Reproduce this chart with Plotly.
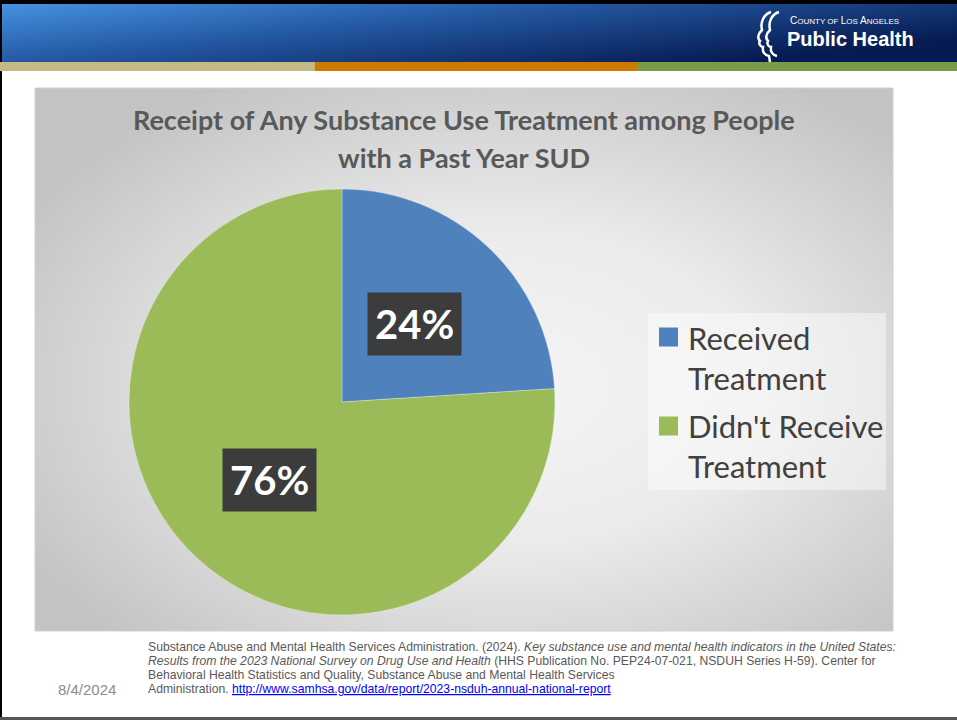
import base64
import math
import plotly.graph_objects as go

# ---- data ----
labels = ["Received Treatment", "Didn't Receive Treatment"]
legend_text = ["Received<br>Treatment", "Didn't Receive<br>Treatment"]
values = [24, 76]
colors = ["#4f81bd", "#9bbb59"]

title_lines = ["Receipt of Any Substance Use Treatment among People",
               "with a Past Year SUD"]
citation_lines = [
    "Substance Abuse and Mental Health Services Administration. (2024). "
    "<i>Key substance use and mental health indicators in the United States:</i>",
    "<i>Results from the 2023 National Survey on Drug Use and Health</i> "
    "(HHS Publication No. PEP24-07-021, NSDUH Series H-59). Center for",
    "Behavioral Health Statistics and Quality, Substance Abuse and Mental Health Services",
    "Administration. ",
]
link_url = "http://www.samhsa.gov/data/report/2023-nsduh-annual-national-report"
date_text = "8/4/2024"

W, H = 957, 720


def px(x):
    return x / W


def py(y):
    return 1 - y / H


def svg_uri(svg):
    return "data:image/svg+xml;base64," + base64.b64encode(svg.encode()).decode()


# pie placement in pixels
cx, cy, R = 342, 402, 213

fig = go.Figure()
fig.add_trace(go.Pie(
    labels=labels,
    values=values,
    marker=dict(colors=colors, line=dict(color="rgba(255,255,255,0.6)", width=0.5)),
    sort=False,
    direction="clockwise",
    rotation=0,
    textinfo="none",
    hoverinfo="label+percent",
    showlegend=False,
    domain=dict(x=[px(cx - R), px(cx + R)], y=[py(cy + R), py(cy - R)]),
))

shapes = []
images = []
annotations = []

# top banner with gradient
banner_svg = (
    "<svg xmlns='http://www.w3.org/2000/svg' width='957' height='60' viewBox='0 0 957 60' "
    "preserveAspectRatio='none'><defs><linearGradient id='b' x1='0' y1='0' x2='1' y2='0.6'>"
    "<stop offset='0' stop-color='#4593e2'/><stop offset='0.45' stop-color='#2458a2'/>"
    "<stop offset='1' stop-color='#061b52'/></linearGradient></defs>"
    "<rect width='957' height='60' fill='url(#b)'/></svg>"
)
images.append(dict(source=svg_uri(banner_svg), xref="paper", yref="paper",
                   x=0, y=py(3), sizex=1, sizey=59 / H, sizing="stretch",
                   xanchor="left", yanchor="top", layer="below"))

# chart area radial gradient
area = (35, 88, 893, 631)
aw, ah = area[2] - area[0], area[3] - area[1]
area_svg = (
    f"<svg xmlns='http://www.w3.org/2000/svg' width='{aw}' height='{ah}' viewBox='0 0 {aw} {ah}' "
    "preserveAspectRatio='none'><defs><radialGradient id='g' cx='55%' cy='55%' r='65%'>"
    "<stop offset='0' stop-color='#f5f5f5'/><stop offset='0.45' stop-color='#ebebeb'/>"
    "<stop offset='1' stop-color='#c3c3c3'/></radialGradient></defs>"
    f"<rect width='{aw}' height='{ah}' fill='url(#g)'/></svg>"
)
images.append(dict(source=svg_uri(area_svg), xref="paper", yref="paper",
                   x=px(area[0]), y=py(area[1]), sizex=aw / W, sizey=ah / H,
                   sizing="stretch", xanchor="left", yanchor="top", layer="below"))


def rect(x0, y0, x1, y1, fill, line=None, layer="below"):
    shapes.append(dict(type="rect", xref="paper", yref="paper",
                       x0=px(x0), x1=px(x1), y0=py(y1), y1=py(y0),
                       fillcolor=fill, line=dict(width=0) if line is None else line,
                       layer=layer))


# frame and stripes
rect(0, 0, W, 4, "#000000")
rect(0, 0, 2, H, "#000000")
rect(0, 62, 315, 71, "#c4b887")
rect(315, 62, 637, 71, "#cc7a00")
rect(637, 62, W, 71, "#7a9c4a")
rect(0, 717, W, H, "#555555")
rect(area[0], area[1], area[2], area[3], "rgba(0,0,0,0)",
     line=dict(color="#d0d0d0", width=1))

# legend panel with swatches and labels
rect(648, 313, 886, 490, "rgba(255,255,255,0.45)")
legend_rows = [(337, 378), (426, 466)]
for (y1, y2), txt, col in zip(legend_rows, legend_text, colors):
    rect(659, y1 - 9.5, 678, y1 + 9.5, col, layer="above")
    annotations.append(dict(text=txt, xref="paper", yref="paper",
                            x=px(686), y=py((y1 + y2) / 2), xanchor="left", yanchor="middle",
                            align="left", showarrow=False,
                            font=dict(family="Lato, sans-serif", size=31, color="#404040")))

# logo silhouette
face = ("M 771 12 C 764 14 760 22 762 30 C 758 34 757 38 760 41 C 758 44 761 47 763 47 "
        "C 762 52 765 55 769 56 L 770 62")
face2 = ("M 779 12 C 772 14 768 22 770 30 C 766 34 765 38 768 41 C 766 44 769 47 771 47 "
         "C 770 52 773 55 777 56")


def to_paper_path(path):
    toks = path.split()
    out = []
    i = 0
    while i < len(toks):
        t = toks[i]
        if t.isalpha():
            out.append(t)
            i += 1
        else:
            x, y = float(toks[i]), float(toks[i + 1])
            out.append(f"{px(x):.5f},{py(y):.5f}")
            i += 2
    return " ".join(out)


for pth in (face, face2):
    shapes.append(dict(type="path", xref="paper", yref="paper", path=to_paper_path(pth),
                       line=dict(color="white", width=2.5)))

annotations.append(dict(text="C<span style='font-size:8px'>OUNTY OF </span>L<span style='font-size:8px'>OS </span>A<span style='font-size:8px'>NGELES</span>",
                        xref="paper", yref="paper", x=px(788), y=py(20),
                        xanchor="left", yanchor="middle", showarrow=False,
                        font=dict(family="Liberation Sans, Arial, sans-serif",
                                  size=10, color="white")))
annotations.append(dict(text="<b>Public Health</b>",
                        xref="paper", yref="paper", x=px(785), y=py(39),
                        xanchor="left", yanchor="middle", showarrow=False,
                        font=dict(family="Liberation Sans, Arial, sans-serif",
                                  size=20, color="white")))

# title
for i, line in enumerate(title_lines):
    annotations.append(dict(text=f"<b>{line}</b>", xref="paper", yref="paper",
                            x=px(464), y=py(120 + 37 * i), xanchor="center", yanchor="middle",
                            showarrow=False,
                            font=dict(family="Lato, sans-serif", size=27, color="#595959")))

# percentage labels placed at mid-slice angle
total = sum(values)
cum = 0
for v in values:
    mid = 2 * math.pi * (cum + v / 2) / total
    cum += v
    r = 0.5 * R
    lx = cx + r * math.sin(mid)
    ly = cy - r * math.cos(mid)
    annotations.append(dict(text=f"<b>{round(100 * v / total)}%</b>", xref="paper", yref="paper",
                            x=px(lx), y=py(ly), xanchor="center", yanchor="middle",
                            showarrow=False, bgcolor="#3c3c3c", borderpad=7,
                            font=dict(family="Lato, sans-serif", size=40, color="white")))

# citation
cit_font = dict(family="Liberation Sans, Arial, sans-serif", size=12.2, color="#595959")
for i, line in enumerate(citation_lines):
    txt = line
    if i == len(citation_lines) - 1:
        txt += f"<a href='{link_url}' style='color:#0000ff'><u>{link_url}</u></a>"
    annotations.append(dict(text=txt, xref="paper", yref="paper", x=px(146), y=py(647 + 14 * i),
                            xanchor="left", yanchor="middle", showarrow=False, font=cit_font))
annotations.append(dict(text=date_text, xref="paper", yref="paper", x=px(56), y=py(689),
                        xanchor="left", yanchor="middle", showarrow=False,
                        font=dict(family="Liberation Sans, Arial, sans-serif", size=15, color="#8c8c8c")))

fig.update_layout(
    width=W, height=H,
    margin=dict(l=0, r=0, t=0, b=0),
    paper_bgcolor="white",
    plot_bgcolor="white",
    shapes=shapes,
    images=images,
    annotations=annotations,
    showlegend=False,
)

fig.write_html("out.html")
